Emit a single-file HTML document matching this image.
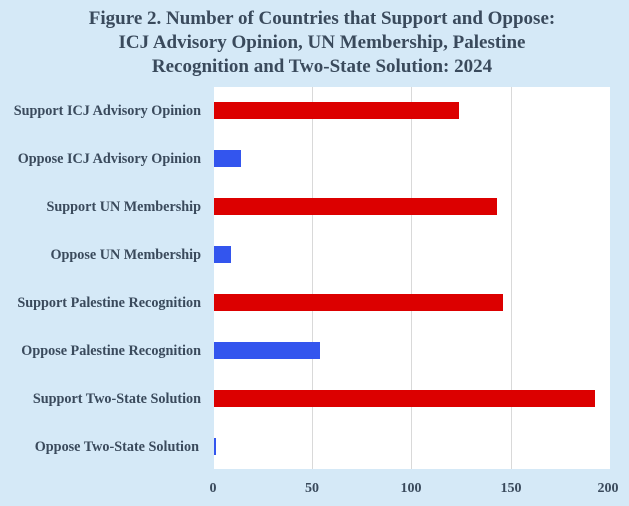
<!DOCTYPE html>
<html><head><style>
body{margin:0;background:#d5e9f7;}
svg{display:block;font-family:"Liberation Serif",serif;font-weight:bold;}
</style></head><body>
<svg width="629" height="506" xmlns="http://www.w3.org/2000/svg">
<rect x="0" y="0" width="629" height="506" fill="#d5e9f7"/>
<g fill="#3a4a5c" font-size="19" text-anchor="middle">
<text x="322" y="24">Figure 2. Number of Countries that Support and Oppose:</text>
<text x="322" y="48">ICJ Advisory Opinion, UN Membership, Palestine</text>
<text x="322" y="72">Recognition and Two-State Solution: 2024</text>
</g>
<rect x="214" y="87" width="396" height="382" fill="#fff"/>
<g stroke="#d9d9d9" stroke-width="1">
<line x1="312.5" y1="87" x2="312.5" y2="469"/>
<line x1="411.5" y1="87" x2="411.5" y2="469"/>
<line x1="511.5" y1="87" x2="511.5" y2="469"/>
</g>
<g fill="#dc0000">
<rect x="214" y="102" width="245" height="17"/>
<rect x="214" y="198" width="283" height="17"/>
<rect x="214" y="294" width="289" height="17"/>
<rect x="214" y="390" width="381" height="17"/>
</g>
<g fill="#3355ee">
<rect x="214" y="150" width="27" height="17"/>
<rect x="214" y="246" width="17" height="17"/>
<rect x="214" y="342" width="106" height="17"/>
<rect x="214" y="438" width="2" height="17"/>
</g>
<g fill="#3a4a5c" font-size="14.2" text-anchor="end">
<text x="201" y="115">Support ICJ Advisory Opinion</text>
<text x="201" y="163">Oppose ICJ Advisory Opinion</text>
<text x="201" y="211">Support UN Membership</text>
<text x="201" y="259">Oppose UN Membership</text>
<text x="201" y="307">Support Palestine Recognition</text>
<text x="201" y="355">Oppose Palestine Recognition</text>
<text x="201" y="403">Support Two-State Solution</text>
<text x="199" y="451">Oppose Two-State Solution</text>
</g>
<g fill="#3a4a5c" font-size="14" text-anchor="middle">
<text x="213" y="492">0</text>
<text x="312" y="492">50</text>
<text x="411" y="492">100</text>
<text x="511" y="492">150</text>
<text x="608" y="492">200</text>
</g>
</svg>
</body></html>
